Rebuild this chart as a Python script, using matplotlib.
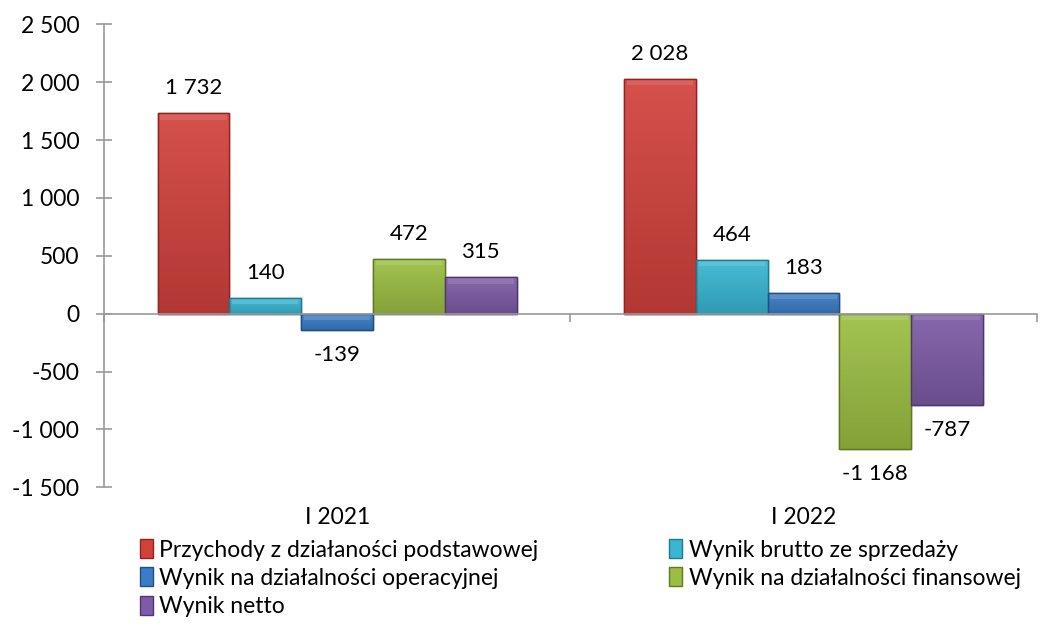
import numpy as np
import matplotlib.pyplot as plt
from matplotlib.patches import Patch, Rectangle
from matplotlib.colors import to_rgb
from matplotlib.ticker import FuncFormatter

plt.rcParams['font.family'] = ['Lato', 'DejaVu Sans']

categories = ['I 2021', 'I 2022']
series = ['Przychody z działaności podstawowej', 'Wynik brutto ze sprzedaży',
          'Wynik na działalności operacyjnej', 'Wynik na działalności finansowej',
          'Wynik netto']
values = [
    [1732, 2028],
    [140, 464],
    [-139, 183],
    [472, -1168],
    [315, -787],
]
colors = ['#D2413C', '#38B6D2', '#3B7CC6', '#9BBE42', '#7D5BA6']
edges = ['#8E2522', '#1E7A8E', '#1F4F86', '#5E7A22', '#4E3670']


def fmt(v):
    s = f'{abs(int(v)):,}'.replace(',', ' ')
    return ('-' if v < 0 else '') + s


def shade(c, f):
    r = np.array(to_rgb(c))
    if f > 0:
        return tuple(r + (1 - r) * f)
    return tuple(r * (1 + f))


fig = plt.figure(figsize=(10.48, 6.24), dpi=100)
ax = fig.add_axes([0.0992, 0.219, 0.890, 0.742])

x = np.arange(len(categories))
w = 0.154
for i, (name, vals) in enumerate(zip(series, values)):
    pos = x + (i - 2) * w
    bars = ax.bar(pos, vals, width=w, color=colors[i], edgecolor=edges[i], linewidth=1.0, zorder=3)
    for b, p, v in zip(bars, pos, vals):
        lo, hi = min(0, v), max(0, v)
        # vertical gradient, lighter at top
        grad = np.linspace(0, 1, 64).reshape(-1, 1)
        top_c = np.array(shade(colors[i], 0.08))
        bot_c = np.array(shade(colors[i], -0.15))
        img = top_c * (1 - grad[..., None]) + bot_c * grad[..., None]
        im = ax.imshow(img, extent=(p - w / 2, p + w / 2, lo, hi), aspect='auto',
                       origin='upper', zorder=3.1)
        im.set_clip_path(b)
        # soft bevel highlight on top edge
        bh = min(55, (hi - lo) * 0.4)
        ax.add_patch(Rectangle((p - w / 2 + 0.006, hi - bh), w - 0.012, bh,
                               facecolor=shade(colors[i], 0.3), edgecolor='none',
                               alpha=0.45, zorder=3.2))
        ax.add_patch(Rectangle((p - w / 2, lo), w, hi - lo, facecolor='none',
                               edgecolor=edges[i], linewidth=1.0, zorder=3.3))
        if v >= 0:
            ax.annotate(fmt(v), (p, v), xytext=(0, 18), textcoords='offset points',
                        ha='center', va='center', fontsize=16)
        else:
            ax.annotate(fmt(v), (p, v), xytext=(0, -18), textcoords='offset points',
                        ha='center', va='center', fontsize=16)

ax.set_xlim(-0.5, 1.5)
ax.set_ylim(-1500, 2500)
ax.set_yticks(np.arange(-1500, 2501, 500))
ax.yaxis.set_major_formatter(FuncFormatter(lambda v, _: fmt(v)))
ax.tick_params(axis='y', labelsize=16.5, length=11.5, direction='inout', color='#999999',
               width=1.2, pad=12)

ax.spines['top'].set_visible(False)
ax.spines['right'].set_visible(False)
ax.spines['left'].set_color('#999999')
ax.spines['left'].set_linewidth(1.2)
ax.spines['bottom'].set_position(('data', 0))
ax.spines['bottom'].set_color('#999999')
ax.spines['bottom'].set_linewidth(1.2)
ax.spines['bottom'].set_zorder(4)
ax.set_xticks([-0.5, 0.5, 1.5])
ax.set_xticklabels([])
ax.tick_params(axis='x', length=6, color='#999999', width=1.2)

for xi, c in zip(x, categories):
    ax.text(xi, -0.043, c, transform=ax.get_xaxis_transform(), ha='center', va='top',
            fontsize=16.5)

handles = [Patch(facecolor=c, edgecolor=e) for c, e in zip(colors, edges)]
order = [0, 2, 4, 1, 3]
fig.legend([handles[k] for k in order], [series[k] for k in order], loc='upper left',
           bbox_to_anchor=(0.1336, 0.136), ncol=2, frameon=False, fontsize=16.5,
           handlelength=0.55, handleheight=0.9, handletextpad=0.3,
           columnspacing=5.7, labelspacing=0.3, borderaxespad=0, borderpad=0)

fig.savefig('out.png', dpi=100)
